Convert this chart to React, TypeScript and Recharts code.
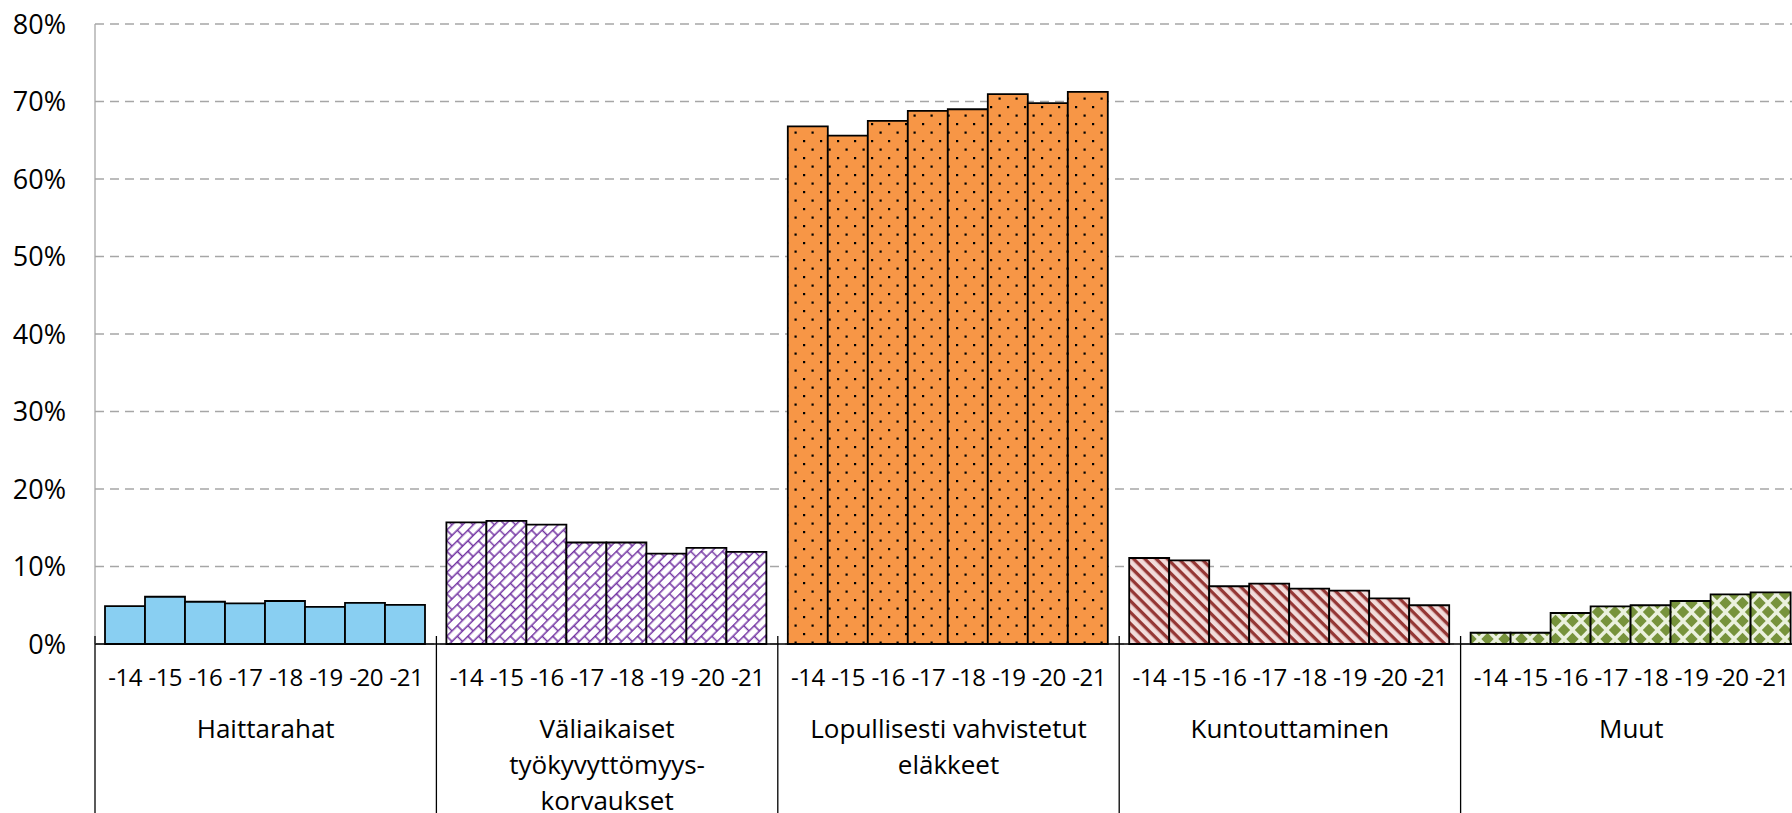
import React from 'react';
import { BarChart, Bar, XAxis, YAxis, CartesianGrid, Cell } from 'recharts';

const groupLabels: string[][] = [
  ['Haittarahat'],
  ['Väliaikaiset', 'työkyvyttömyys-', 'korvaukset'],
  ['Lopullisesti vahvistetut', 'eläkkeet'],
  ['Kuntouttaminen'],
  ['Muut'],
];
const years = ['-14', '-15', '-16', '-17', '-18', '-19', '-20', '-21'];

const haittarahat = [4.9, 6.1, 5.45, 5.25, 5.55, 4.8, 5.3, 5.05];
const valiaikaiset = [15.7, 15.9, 15.4, 13.1, 13.1, 11.65, 12.4, 11.9];
const lopullisesti = [66.8, 65.6, 67.5, 68.8, 69.0, 70.95, 69.8, 71.25];
const kuntouttaminen = [11.1, 10.8, 7.45, 7.8, 7.15, 6.9, 5.9, 5.0];
const muut = [1.45, 1.45, 4.0, 4.85, 5.0, 5.55, 6.4, 6.65];

const yTicks = [0, 10, 20, 30, 40, 50, 60, 70, 80];

const seriesByGroup = [haittarahat, valiaikaiset, lopullisesti, kuntouttaminen, muut];
const data = groupLabels.map((lines, gi) => {
  const row: Record<string, any> = { name: lines.join(' ') };
  years.forEach((_, yi) => {
    row['y' + yi] = seriesByGroup[gi][yi];
  });
  return row;
});

const FONT = "'Open Sans', 'Noto Sans', sans-serif";
const CHART_W = 1802;
const CHART_H = 840;
const Y_AXIS_W = 95;
const MARGIN_TOP = 24;
const PLOT_BOTTOM = 644;
const PLOT_W = CHART_W - Y_AXIS_W;
const GROUP_W = PLOT_W / groupLabels.length;
const CAT_GAP = 10;
const BAR_W = (GROUP_W - 2 * CAT_GAP) / years.length;

const GroupTick = (props: any) => {
  const { x, y, index } = props;
  const left = x - GROUP_W / 2;
  const right = x + GROUP_W / 2;
  const lines = groupLabels[index] || [];
  return (
    <g>
      <line x1={left} x2={left} y1={y - 8} y2={y + 220} stroke="#000" strokeWidth={1.3} />
      {index === groupLabels.length - 1 && (
        <line x1={right} x2={right} y1={y - 8} y2={y + 220} stroke="#000" strokeWidth={1.3} />
      )}
      {years.map((yr, j) => (
        <text
          key={yr}
          x={x + (j - (years.length - 1) / 2) * BAR_W}
          y={y + 32}
          textAnchor="middle"
          dominantBaseline="central"
          fontFamily={FONT}
          fontSize={24}
          letterSpacing={-0.5}
          fill="#000"
        >
          {yr}
        </text>
      ))}
      {lines.map((ln, li) => (
        <text
          key={li}
          x={x}
          y={y + 84 + li * 36}
          textAnchor="middle"
          dominantBaseline="central"
          fontFamily={FONT}
          fontSize={26}
          fill="#000"
        >
          {ln}
        </text>
      ))}
    </g>
  );
};

const patternIds = ['patBlue', 'patPurple', 'patOrange', 'patRed', 'patGreen'];
const PURPLE = '#7030A0';
const GREEN = '#77933C';

export default function App() {
  return (
    <div
      style={{
        position: 'absolute',
        left: 0,
        top: 0,
        width: 1792,
        height: 813,
        overflow: 'hidden',
        background: '#fff',
      }}
    >
      <BarChart
        width={CHART_W}
        height={CHART_H}
        data={data}
        margin={{ top: MARGIN_TOP, right: 0, bottom: 0, left: 0 }}
        barCategoryGap={CAT_GAP}
        barGap={0}
      >
        <defs>
          <pattern id="patBlue" patternUnits="userSpaceOnUse" width={10} height={10}>
            <rect width={10} height={10} fill="#89CFF2" />
          </pattern>
          <pattern
            id="patPurple"
            patternUnits="userSpaceOnUse"
            width={15}
            height={15}
            patternTransform="rotate(-45)"
          >
            <rect width={15} height={15} fill="#fff" />
            <line x1={0} x2={15} y1={0.7} y2={0.7} stroke={PURPLE} strokeWidth={1.5} />
            <line x1={0} x2={15} y1={8.2} y2={8.2} stroke={PURPLE} strokeWidth={1.5} />
            <line x1={1} x2={1} y1={0.7} y2={8.2} stroke={PURPLE} strokeWidth={1.5} />
            <line x1={8.5} x2={8.5} y1={8.2} y2={15.7} stroke={PURPLE} strokeWidth={1.5} />
          </pattern>
          <pattern id="patOrange" patternUnits="userSpaceOnUse" width={17} height={17}>
            <rect width={17} height={17} fill="#F79646" />
            <rect x={4} y={4} width={2.2} height={2.2} fill="#000" />
            <rect x={12.5} y={12.5} width={2.2} height={2.2} fill="#000" />
          </pattern>
          <pattern
            id="patRed"
            patternUnits="userSpaceOnUse"
            width={8}
            height={8}
            patternTransform="rotate(45)"
          >
            <rect width={8} height={8} fill="#F2DCDB" />
            <rect width={8} height={3.3} fill="#953735" />
          </pattern>
          <pattern id="patGreen" patternUnits="userSpaceOnUse" width={17} height={18}>
            <rect width={17} height={18} fill="#EBF1DE" />
            <polygon points="8.5,2.8 14.7,9 8.5,15.2 2.3,9" fill={GREEN} />
            <polygon points="0,-6.2 6.2,0 0,6.2 -6.2,0" fill={GREEN} />
            <polygon points="17,-6.2 23.2,0 17,6.2 10.8,0" fill={GREEN} />
            <polygon points="0,11.8 6.2,18 0,24.2 -6.2,18" fill={GREEN} />
            <polygon points="17,11.8 23.2,18 17,24.2 10.8,18" fill={GREEN} />
          </pattern>
        </defs>
        <CartesianGrid
          vertical={false}
          stroke="#a6a6a6"
          strokeWidth={1.3}
          strokeDasharray="9 6"
        />
        <XAxis
          dataKey="name"
          interval={0}
          tickLine={false}
          tickSize={0}
          tickMargin={0}
          height={CHART_H - PLOT_BOTTOM}
          axisLine={{ stroke: '#000', strokeWidth: 1.5 }}
          tick={<GroupTick />}
        />
        <YAxis
          width={Y_AXIS_W}
          domain={[0, 80]}
          ticks={yTicks}
          interval={0}
          tickLine={false}
          tickSize={0}
          tickMargin={29}
          axisLine={{ stroke: '#a6a6a6', strokeWidth: 1.3 }}
          tickFormatter={(v: number) => `${v}%`}
          tick={{ fontFamily: FONT, fontSize: 27, fill: '#000' }}
        />
        {years.map((yr, yi) => (
          <Bar
            key={yr}
            dataKey={'y' + yi}
            stroke="#000"
            strokeWidth={1.8}
            isAnimationActive={false}
          >
            {data.map((_, gi) => (
              <Cell key={gi} fill={`url(#${patternIds[gi]})`} />
            ))}
          </Bar>
        ))}
      </BarChart>
    </div>
  );
}
